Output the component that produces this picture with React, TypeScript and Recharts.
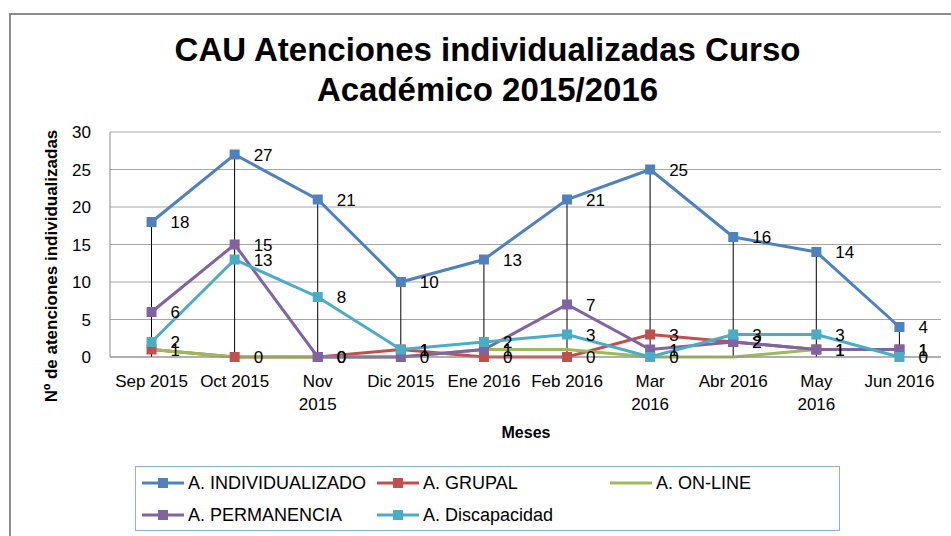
import { ComposedChart, Line, Bar, XAxis, YAxis, CartesianGrid, LabelList } from "recharts";

const months = ["Sep 2015", "Oct 2015", "Nov\n2015", "Dic 2015", "Ene 2016", "Feb 2016", "Mar\n2016", "Abr 2016", "May\n2016", "Jun 2016"];
const individualizado = [18, 27, 21, 10, 13, 21, 25, 16, 14, 4];
const grupal = [1, 0, 0, 1, 0, 0, 3, 2, 1, 1];
const online = [1, 0, 0, 0, 1, 1, 0, 0, 1, 1];
const permanencia = [6, 15, 0, 0, 1, 7, 1, 2, 1, 1];
const discapacidad = [2, 13, 8, 1, 2, 3, 0, 3, 3, 0];
const yTicks = [0, 5, 10, 15, 20, 25, 30];

const series = [
  { key: "individualizado", name: "A. INDIVIDUALIZADO", color: "#4F81BD", marker: true, labels: true },
  { key: "grupal", name: "A. GRUPAL", color: "#C0504D", marker: true, labels: true },
  { key: "online", name: "A. ON-LINE", color: "#9BBB59", marker: false, labels: false },
  { key: "permanencia", name: "A. PERMANENCIA", color: "#8064A2", marker: true, labels: true },
  { key: "discapacidad", name: "A. Discapacidad", color: "#4BACC6", marker: true, labels: true },
];

const data = months.map((month, i) => ({
  month,
  individualizado: individualizado[i],
  grupal: grupal[i],
  online: online[i],
  permanencia: permanencia[i],
  discapacidad: discapacidad[i],
}));

const FONT = "'Liberation Sans', Arial, sans-serif";

const MonthTick = ({ x, y, payload }: any) => {
  const lines = String(payload.value).split("\n");
  return (
    <text x={x} y={y} textAnchor="middle" fontSize={17} fill="#000" fontFamily={FONT}>
      {lines.map((l, i) => (
        <tspan key={i} x={x} dy={i === 0 ? 30 : 23}>{l}</tspan>
      ))}
    </text>
  );
};

const squareDot = (color: string) => (props: any) => {
  const { cx, cy, index } = props;
  return <rect key={index} x={cx - 5} y={cy - 5} width={10} height={10} fill={color} />;
};

const valueLabel = (props: any) => {
  const { x, y, value } = props;
  return (
    <text x={x + 19} y={y} dy={6} fontSize={17} fill="#000" fontFamily={FONT}>
      {value}
    </text>
  );
};

// legend columns, 3 per row like the excel original
const legendCols = [235, 233, 233];

function LegendBox() {
  return (
    <div
      style={{
        position: "absolute",
        left: 135,
        top: 466,
        width: 703,
        height: 63,
        border: "1px solid #8eb0dc",
        display: "flex",
        flexWrap: "wrap",
        fontSize: 18,
      }}
    >
      {series.map((s, i) => (
        <div
          key={s.key}
          style={{
            width: legendCols[i % 3],
            height: 32,
            display: "flex",
            alignItems: "center",
            paddingLeft: 4,
            boxSizing: "border-box",
            whiteSpace: "nowrap",
          }}
        >
          <svg width={46} height={14} style={{ marginRight: 2, flex: "none" }}>
            <line x1={2} y1={7} x2={44} y2={7} stroke={s.color} strokeWidth={3} />
            {s.marker && <rect x={18} y={2} width={10} height={10} fill={s.color} />}
          </svg>
          <span>{s.name}</span>
        </div>
      ))}
    </div>
  );
}

export default function App() {
  return (
    <div
      style={{
        position: "absolute",
        left: 0,
        top: 0,
        width: 951,
        height: 536,
        overflow: "hidden",
        background: "#fff",
        fontFamily: FONT,
        color: "#000",
      }}
    >
      <div style={{ position: "absolute", left: 9, top: 13, width: 1000, height: 600, border: "2px solid #8c8c8c" }} />
      <div
        style={{
          position: "absolute",
          left: 0,
          top: 30,
          width: 975,
          textAlign: "center",
          fontSize: 33,
          fontWeight: "bold",
          lineHeight: "40px",
        }}
      >
        CAU Atenciones individualizadas Curso
        <br />
        Académico 2015/2016
      </div>
      <div
        style={{
          position: "absolute",
          left: 52,
          top: 266,
          transform: "translate(-50%, -50%) rotate(-90deg)",
          whiteSpace: "nowrap",
          fontSize: 17,
          fontWeight: "bold",
        }}
      >
        Nº de atenciones individualizadas
      </div>
      <div style={{ position: "absolute", left: 526, top: 433, transform: "translate(-50%, -50%)", fontSize: 16, fontWeight: "bold" }}>
        Meses
      </div>
      <div style={{ position: "absolute", left: 0, top: 0 }}>
        <ComposedChart width={951} height={536} data={data} margin={{ top: 132, right: 10, bottom: 99, left: 0 }}>
          <CartesianGrid vertical={false} stroke="#a6a6a6" strokeWidth={1} />
          <XAxis
            dataKey="month"
            height={80}
            tick={<MonthTick />}
            tickLine={false}
            tickSize={0}
            tickMargin={0}
            interval={0}
            axisLine={{ stroke: "#8c8c8c" }}
          />
          <YAxis
            width={110}
            domain={[0, 30]}
            ticks={yTicks}
            tickLine={false}
            tickSize={0}
            tickMargin={19}
            axisLine={{ stroke: "#8c8c8c" }}
            tick={{ fontSize: 17, fill: "#000", fontFamily: FONT }}
          />
          <Bar dataKey="individualizado" barSize={1} fill="#000" isAnimationActive={false} legendType="none" />
          {series.map((s) => (
            <Line
              key={s.key}
              type="linear"
              dataKey={s.key}
              name={s.name}
              stroke={s.color}
              strokeWidth={3}
              dot={s.marker ? squareDot(s.color) : false}
              activeDot={false}
              isAnimationActive={false}
            >
              {s.labels && <LabelList dataKey={s.key} content={valueLabel} />}
            </Line>
          ))}
        </ComposedChart>
      </div>
      <LegendBox />
    </div>
  );
}
